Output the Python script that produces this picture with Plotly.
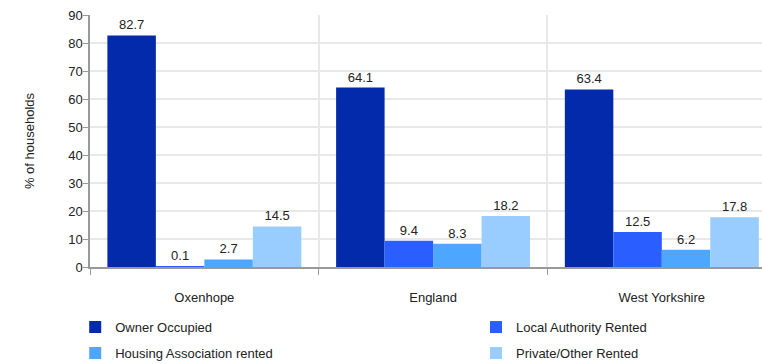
import plotly.graph_objects as go

categories = ["Oxenhope", "England", "West Yorkshire"]
owner_occupied = [82.7, 64.1, 63.4]
local_authority = [0.1, 9.4, 12.5]
housing_association = [2.7, 8.3, 6.2]
private_other = [14.5, 18.2, 17.8]
y_ticks = [0, 10, 20, 30, 40, 50, 60, 70, 80, 90]

series = [
    ("Owner Occupied", owner_occupied, "#022AAB", "legend"),
    ("Local Authority Rented", local_authority, "#2B5EFF", "legend2"),
    ("Housing Association rented", housing_association, "#4DA6FF", "legend3"),
    ("Private/Other Rented", private_other, "#99CCFF", "legend4"),
]

font_family = "Liberation Sans, Arial, sans-serif"
fig = go.Figure()
for name, vals, color, leg in series:
    fig.add_trace(go.Bar(
        x=categories, y=vals, name=name, marker_color=color, marker_line_width=0,
        text=[f"{v:.1f}" for v in vals], textposition="outside",
        textfont=dict(size=13, color="#222", family=font_family),
        cliponaxis=False, legend=leg, showlegend=True,
    ))

def leg(x, y):
    return dict(orientation="h", x=x, xanchor="left", y=y, yanchor="top",
                font=dict(size=13, color="#222"), bgcolor="rgba(0,0,0,0)")

fig.update_layout(
    width=762, height=364,
    margin=dict(l=90, r=0, t=15, b=97, autoexpand=False),
    plot_bgcolor="white", paper_bgcolor="white",
    font=dict(family=font_family, size=13, color="#222"),
    barmode="group", bargap=0.152, bargroupgap=0,
    showlegend=True,
    legend=leg(-0.022, -0.179),
    legend2=leg(0.5744, -0.179),
    legend3=leg(-0.022, -0.282),
    legend4=leg(0.5744, -0.282),
)
fig.update_xaxes(
    type="category", range=[-0.5, 2.438], tickson="boundaries",
    showgrid=True, gridcolor="#e8e8e8", gridwidth=1.5,
    showline=True, linecolor="#999", linewidth=1.5,
    ticks="outside", ticklen=6, tickcolor="#999", ticklabelstandoff=18,
    tickfont=dict(size=13, color="#222"),
)
fig.update_yaxes(
    range=[0, 90], tickvals=y_ticks,
    showgrid=True, gridcolor="#e8e8e8", gridwidth=1.5,
    showline=True, linecolor="#999", linewidth=1.5,
    ticks="outside", ticklen=5, tickcolor="#999", ticklabelstandoff=-2,
    tickfont=dict(size=13, color="#222"),
    title=dict(text="% of households", standoff=31, font=dict(size=13, color="#222")),
    zeroline=False,
)

fig.write_html("out.html", config={"displayModeBar": False},
               post_script="document.body.style.margin='0';")
